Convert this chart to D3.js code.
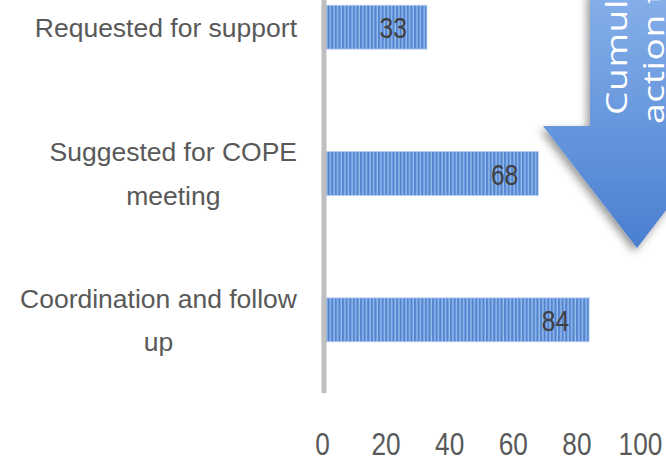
<!DOCTYPE html>
<html><head><meta charset="utf-8">
<script src="https://cdn.jsdelivr.net/npm/d3@7"></script>
<style>html,body{margin:0;padding:0;background:#fff;overflow:hidden}</style>
</head><body>
<script>
const categories = ["Requested for support", "Suggested for COPE meeting", "Coordination and follow up"];
const labelLines = [["Requested for support"], ["Suggested for COPE", "meeting"], ["Coordination and follow", "up"]];
const values = [33, 68, 84];
const tickValues = [0, 20, 40, 60, 80, 100];
const arrowLines = ["Cumulative", "action taken"];

const W = 666, H = 462;
const svg = d3.select("body").append("svg").attr("width", W).attr("height", H);
const defs = svg.append("defs");

const pat = defs.append("pattern").attr("id", "stripes").attr("patternUnits", "userSpaceOnUse")
  .attr("width", 3.6).attr("height", 10);
pat.append("rect").attr("width", 3.6).attr("height", 10).attr("fill", "#5386d2");
pat.append("rect").attr("x", 2.2).attr("width", 1.4).attr("height", 10).attr("fill", "#9bbcea");

const grad = defs.append("linearGradient").attr("id", "arrowGrad")
  .attr("x1", 0).attr("y1", 0).attr("x2", 0).attr("y2", 1);
grad.append("stop").attr("offset", "0%").attr("stop-color", "#86b0ea");
grad.append("stop").attr("offset", "100%").attr("stop-color", "#4a7fd0");

const filt = defs.append("filter").attr("id", "shadow").attr("x", "-30%").attr("y", "-30%").attr("width", "160%").attr("height", "160%");
filt.append("feDropShadow").attr("dx", -3).attr("dy", 4).attr("stdDeviation", 4)
  .attr("flood-color", "#000").attr("flood-opacity", 0.4);

const x = d3.scaleLinear().domain([0, 100]).range([322, 640]);
const y = d3.scaleBand().domain(categories).range([-46, 393]).paddingInner(0.7).paddingOuter(0.35);

// Arrow (decorative SmartArt shape)
const ax = 637, aTop = -10, aNeck = 126, aTip = 248, shaftHalf = 47, headHalf = 94;
svg.append("path")
  .attr("d", `M${ax - shaftHalf},${aTop} L${ax - shaftHalf},${aNeck} L${ax - headHalf},${aNeck} L${ax},${aTip} L${ax + headHalf},${aNeck} L${ax + shaftHalf},${aNeck} L${ax + shaftHalf},${aTop} Z`)
  .attr("fill", "url(#arrowGrad)").attr("filter", "url(#shadow)");

const arrowText = svg.append("g");
const arrowPos = [[627, 115], [664, 124]];
arrowLines.forEach((t, i) => {
  arrowText.append("text")
    .attr("transform", `translate(${arrowPos[i][0]},${arrowPos[i][1]}) rotate(-90) scale(1.24,1)`)
    .attr("text-anchor", "start")
    .attr("font-family", "Open Sans")
    .attr("font-size", 30)
    .attr("letter-spacing", 0.5)
    .attr("fill", "#ffffff")
    .text(t);
});

// Bars
svg.append("g").selectAll("rect").data(values).join("rect")
  .attr("x", x(0))
  .attr("y", (d, i) => y(categories[i]))
  .attr("width", d => x(d) - x(0))
  .attr("height", y.bandwidth())
  .attr("fill", "url(#stripes)")
  .attr("stroke", "#b9cff0").attr("stroke-width", 0.8);

// Value labels (condensed via horizontal scale)
svg.append("g").selectAll("text").data(values).join("text")
  .attr("transform", (d, i) => `translate(${x(d) - 20},${y(categories[i]) + y.bandwidth() / 2 + 11}) scale(0.82,1)`)
  .attr("text-anchor", "end")
  .attr("font-family", "Liberation Sans")
  .attr("font-size", 30)
  .attr("fill", "#404040")
  .text(d => d);

// Vertical axis line
const [r0, r1] = y.range();
svg.append("line").attr("x1", x(0) + 2).attr("x2", x(0) + 2).attr("y1", r0).attr("y2", r1)
  .attr("stroke", "#bfbfbf").attr("stroke-width", 5);

// Category labels
const labelRight = 297;
const lg = svg.append("g");
categories.forEach((c, i) => {
  const lines = labelLines[i];
  const cy = y(c) + y.bandwidth() / 2;
  const g = lg.append("g");
  const texts = lines.map((t, j) => g.append("text")
    .attr("y", cy + 9.5 + (j - (lines.length - 1) / 2) * 43.5)
    .attr("text-anchor", "middle")
    .attr("font-family", "Liberation Sans")
    .attr("font-size", 26.5)
    .attr("fill", "#595959")
    .text(t));
  const maxW = d3.max(texts, t => t.node().getComputedTextLength());
  texts.forEach(t => t.attr("x", labelRight - maxW / 2));
});

// X axis tick labels
const xAxis = d3.axisBottom(x).tickValues(tickValues).tickSize(0).tickPadding(0);
const axG = svg.append("g").attr("transform", "translate(0,455)").call(xAxis);
axG.select(".domain").remove();
axG.selectAll("text")
  .attr("dy", null).attr("y", 0)
  .attr("transform", "scale(0.82,1)")
  .attr("font-family", "Liberation Sans")
  .attr("font-size", 32)
  .attr("fill", "#595959");
</script>
</body></html>
